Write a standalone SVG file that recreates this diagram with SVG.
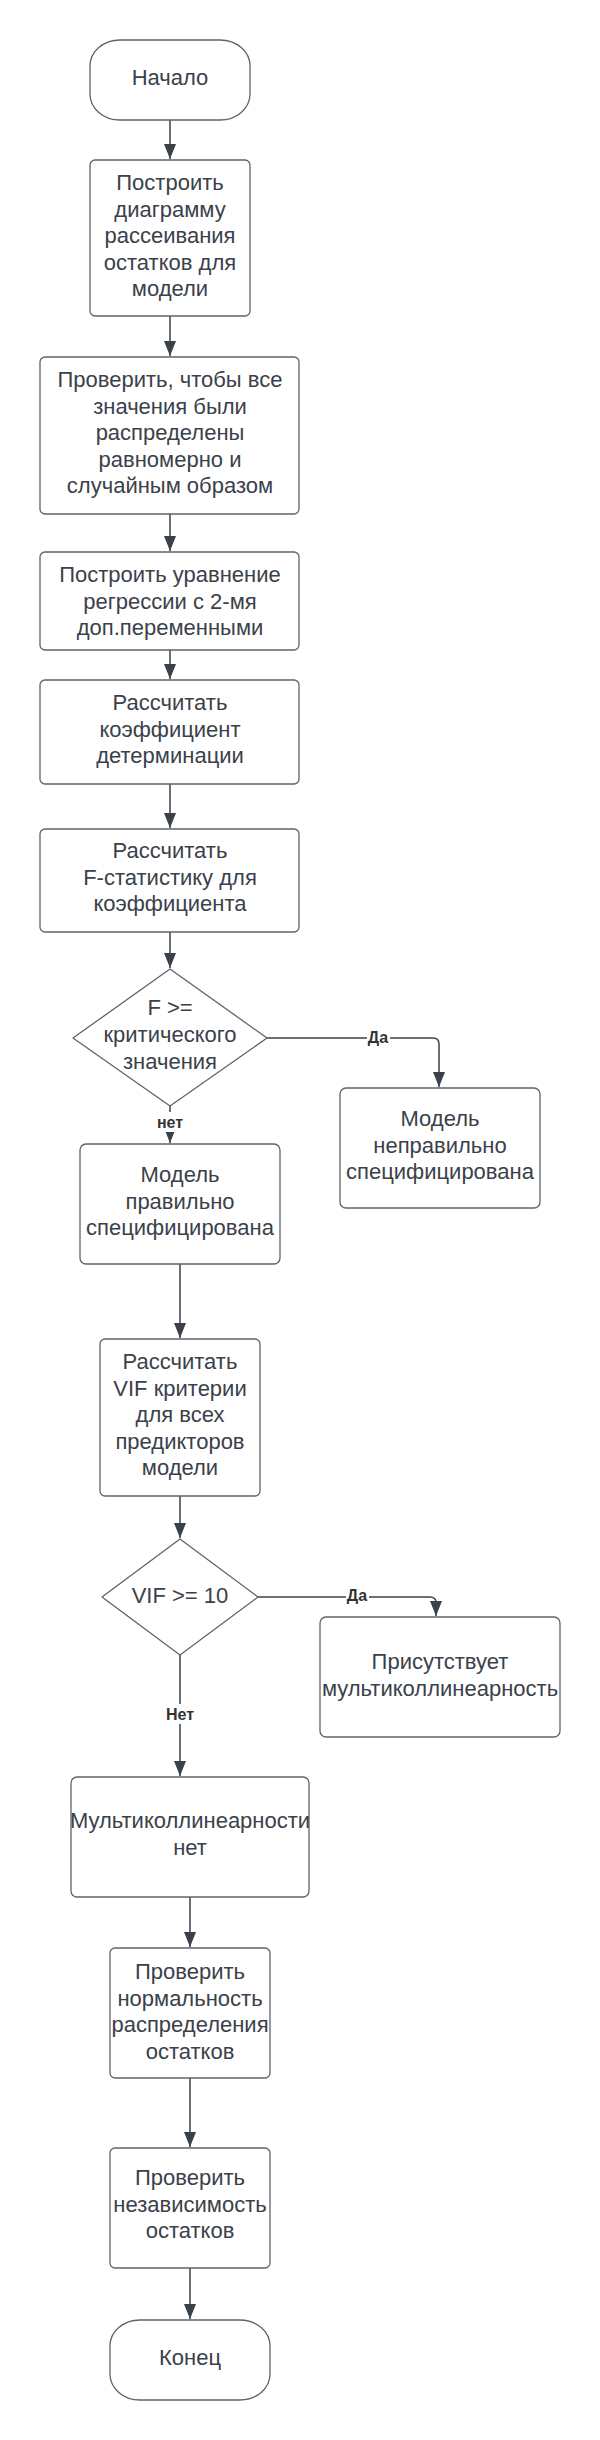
<svg xmlns="http://www.w3.org/2000/svg" width="600" height="2440" viewBox="0 0 600 2440">
<style>
.n{fill:#ffffff;stroke:#5f636a;stroke-width:1.3;stroke-linejoin:round}
.t{font-family:"Liberation Sans",Arial,sans-serif;font-size:22px;fill:#3a414a;text-anchor:middle}
.c{fill:none;stroke:#3a414a;stroke-width:1.5}
.l{font-family:"Liberation Sans",Arial,sans-serif;font-size:16px;font-weight:bold;fill:#333333;text-anchor:middle}
.lb{fill:#ffffff}
</style>
<defs>
<marker id="arr" markerUnits="userSpaceOnUse" markerWidth="12" markerHeight="16" viewBox="0 0 12 16" refX="6" refY="15" orient="auto-start-reverse">
<path d="M0 0 L12 0 L6 15 Z" fill="#3a414a" transform="rotate(0)"/>
</marker>
<marker id="arrd" markerUnits="userSpaceOnUse" markerWidth="16" markerHeight="12" viewBox="0 0 16 12" refX="15" refY="6" orient="auto">
<path d="M0 0 L15 6 L0 12 Z" fill="#3a414a"/>
</marker>
</defs>
<rect width="600" height="2440" fill="#ffffff"/>
<g id="connectors">
<path class="c" d="M170 120 V159" marker-end="url(#arrd)"/>
<path class="c" d="M170 316 V356" marker-end="url(#arrd)"/>
<path class="c" d="M170 514 V551" marker-end="url(#arrd)"/>
<path class="c" d="M170 650 V679" marker-end="url(#arrd)"/>
<path class="c" d="M170 784 V828" marker-end="url(#arrd)"/>
<path class="c" d="M170 932 V968" marker-end="url(#arrd)"/>
<path class="c" d="M267 1038 H433 Q439 1038 439 1044 V1087" marker-end="url(#arrd)"/>
<path class="c" d="M170 1106 V1143" marker-end="url(#arrd)"/>
<path class="c" d="M180 1264 V1338" marker-end="url(#arrd)"/>
<path class="c" d="M180 1496 V1538" marker-end="url(#arrd)"/>
<path class="c" d="M258 1597 H430 Q436 1597 436 1603 V1616" marker-end="url(#arrd)"/>
<path class="c" d="M180 1655 V1776" marker-end="url(#arrd)"/>
<path class="c" d="M190 1897 V1947" marker-end="url(#arrd)"/>
<path class="c" d="M190 2078 V2147" marker-end="url(#arrd)"/>
<path class="c" d="M190 2268 V2319" marker-end="url(#arrd)"/>
<rect class="lb" x="367" y="1027" width="23" height="20"/>
<text class="l" x="378" y="1043">Да</text>
<rect class="lb" x="155" y="1112" width="30" height="20"/>
<text class="l" x="170" y="1128">нет</text>
<rect class="lb" x="346" y="1585" width="23" height="20"/>
<text class="l" x="357" y="1601">Да</text>
<rect class="lb" x="164" y="1704" width="32" height="20"/>
<text class="l" x="180" y="1720">Нет</text>
</g>
<g id="start">
<rect class="n" x="90" y="40" width="160" height="80" rx="30" ry="26"/>
<text class="t" x="170" y="85">Начало</text>
</g>
<g id="box1">
<rect class="n" x="90" y="160" width="160" height="156" rx="5"/>
<text class="t" x="170" y="190">Построить</text>
<text class="t" x="170" y="216.5">диаграмму</text>
<text class="t" x="170" y="243">рассеивания</text>
<text class="t" x="170" y="269.5">остатков для</text>
<text class="t" x="170" y="296">модели</text>
</g>
<g id="box2">
<rect class="n" x="40" y="357" width="259" height="157" rx="5"/>
<text class="t" x="170" y="387">Проверить, чтобы все</text>
<text class="t" x="170" y="413.5">значения были</text>
<text class="t" x="170" y="440">распределены</text>
<text class="t" x="170" y="466.5">равномерно и</text>
<text class="t" x="170" y="493">случайным образом</text>
</g>
<g id="box3">
<rect class="n" x="40" y="552" width="259" height="98" rx="5"/>
<text class="t" x="170" y="582">Построить уравнение</text>
<text class="t" x="170" y="608.5">регрессии с 2-мя</text>
<text class="t" x="170" y="635">доп.переменными</text>
</g>
<g id="box4">
<rect class="n" x="40" y="680" width="259" height="104" rx="5"/>
<text class="t" x="170" y="710">Рассчитать</text>
<text class="t" x="170" y="736.5">коэффициент</text>
<text class="t" x="170" y="763">детерминации</text>
</g>
<g id="box5">
<rect class="n" x="40" y="829" width="259" height="103" rx="5"/>
<text class="t" x="170" y="858">Рассчитать</text>
<text class="t" x="170" y="884.5">F-статистику для</text>
<text class="t" x="170" y="911">коэффициента</text>
</g>
<g id="decision1">
<polygon class="n" points="170,969 267,1038 170,1106 73,1038"/>
<text class="t" x="170" y="1015">F &gt;=</text>
<text class="t" x="170" y="1042">критического</text>
<text class="t" x="170" y="1069">значения</text>
</g>
<g id="wrong">
<rect class="n" x="340" y="1088" width="200" height="120" rx="6"/>
<text class="t" x="440" y="1126">Модель</text>
<text class="t" x="440" y="1152.5">неправильно</text>
<text class="t" x="440" y="1179">специфицирована</text>
</g>
<g id="right">
<rect class="n" x="80" y="1144" width="200" height="120" rx="6"/>
<text class="t" x="180" y="1182">Модель</text>
<text class="t" x="180" y="1208.5">правильно</text>
<text class="t" x="180" y="1235">специфицирована</text>
</g>
<g id="vif">
<rect class="n" x="100" y="1339" width="160" height="157" rx="5"/>
<text class="t" x="180" y="1369">Рассчитать</text>
<text class="t" x="180" y="1395.5">VIF критерии</text>
<text class="t" x="180" y="1422">для всех</text>
<text class="t" x="180" y="1448.5">предикторов</text>
<text class="t" x="180" y="1475">модели</text>
</g>
<g id="decision2">
<polygon class="n" points="180,1539 258,1597 180,1655 102,1597"/>
<text class="t" x="180" y="1603">VIF &gt;= 10</text>
</g>
<g id="multi-yes">
<rect class="n" x="320" y="1617" width="240" height="120" rx="6"/>
<text class="t" x="440" y="1669">Присутствует</text>
<text class="t" x="440" y="1695.5">мультиколлинеарность</text>
</g>
<g id="multi-no">
<rect class="n" x="71" y="1777" width="238" height="120" rx="6"/>
<text class="t" x="190" y="1828">Мультиколлинеарности</text>
<text class="t" x="190" y="1854.5">нет</text>
</g>
<g id="normality">
<rect class="n" x="110" y="1948" width="160" height="130" rx="5"/>
<text class="t" x="190" y="1979">Проверить</text>
<text class="t" x="190" y="2005.5">нормальность</text>
<text class="t" x="190" y="2032">распределения</text>
<text class="t" x="190" y="2058.5">остатков</text>
</g>
<g id="independence">
<rect class="n" x="110" y="2148" width="160" height="120" rx="5"/>
<text class="t" x="190" y="2185">Проверить</text>
<text class="t" x="190" y="2211.5">независимость</text>
<text class="t" x="190" y="2238">остатков</text>
</g>
<g id="end">
<rect class="n" x="110" y="2320" width="160" height="80" rx="30" ry="26"/>
<text class="t" x="190" y="2365">Конец</text>
</g>
</svg>
